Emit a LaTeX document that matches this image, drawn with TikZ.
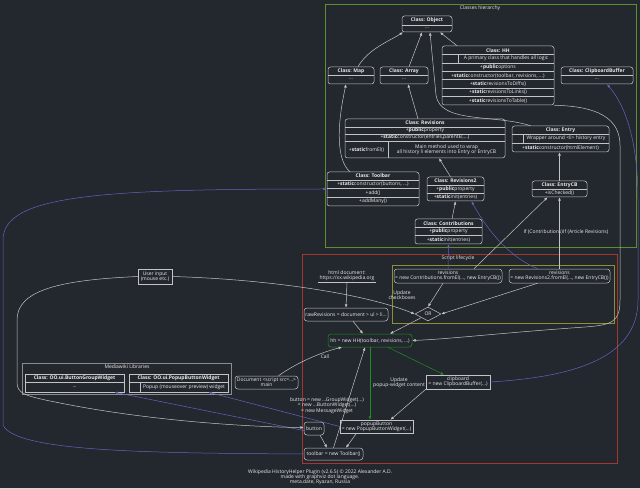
\documentclass[tikz,border=0pt]{standalone}
\usepackage{fontspec}
\setmainfont{Open Sans}[BoldFont={* Bold}]
\usetikzlibrary{arrows.meta,positioning,fit,shapes.geometric,calc}

\definecolor{bg}{HTML}{23272E}
\definecolor{txt}{HTML}{EBEBEB}
\definecolor{linec}{HTML}{C4C4C4}
\definecolor{blueline}{HTML}{6464C0}
\definecolor{greenline}{HTML}{1F8F1F}
\definecolor{clgreen}{HTML}{5E8E2E}
\definecolor{clred}{HTML}{A5382E}
\definecolor{clolive}{HTML}{8E8E34}
\definecolor{clgrey}{HTML}{8C8C8C}
\newcommand{\fs}{\fontsize{5}{5.3}\selectfont}

\begin{document}
\begin{tikzpicture}[x=1pt, y=-1pt,
  every node/.style={font=\fs, text=txt},
  cls/.style={draw=linec, rounded corners=2.5pt, line width=0.5pt, inner sep=0pt},
  lib/.style={draw=linec, line width=0.5pt, inner sep=0pt},
  hdr/.style={font=\fs\bfseries, inner sep=0pt},
  row/.style={inner sep=0pt, align=center},
  sep/.style={draw=linec, line width=0.4pt},
  inst/.style={draw=linec, rounded corners=3pt, align=center, inner sep=0pt, line width=0.5pt},
  plainbox/.style={draw=linec, align=center, inner sep=0pt, line width=0.5pt},
  cluster/.style={line width=0.6pt},
  lbl/.style={align=center, inner sep=0pt},
  edge/.style={draw=linec, line width=0.5pt, -{Latex[length=3.4pt,width=2.8pt]}},
  uses/.style={draw=blueline, line width=0.5pt, -{Latex[length=3.4pt,width=2.8pt]}},
  upd/.style={draw=greenline, line width=0.5pt, -{Latex[length=3.4pt,width=2.8pt]}}]

\fill[bg] (0,0) rectangle (640,489);
\fill[black!15] (0,487.5) rectangle (640,489);
\useasboundingbox (0,0) rectangle (640,489);

% clusters
\draw[cluster, clgreen] (325,4) rectangle (636,247);
\node (clsh) at (480,8.5) {Classes hierarchy};
\draw[cluster, clred] (302,254) rectangle (617,463);
\node (scrh) at (458,258.5) {Script lifecycle};
\draw[cluster, clolive] (392,265) rectangle (614,323);
\draw[cluster, clgrey] (22,363) rectangle (231,394);
\node (libh) at (127,367) {Mediawiki Libraries};

% Object
\node[cls, fit={(402,16) (452,32)}] (object) {};
\node[hdr] (objecth) at (427,20.5) {Class: Object};
\draw[sep] (402,25) -- (452,25);
\node[row] (object1) at (427,28.3) {...};

% Map / Array / ClipboardBuffer
\node[cls, fit={(328,67) (374,84)}] (map) {};
\node[hdr] (maph) at (351,71.2) {Class: Map};
\draw[sep] (328,75.5) -- (374,75.5);
\node[row] (map1) at (351,79.5) {...};
\node[cls, fit={(380,67) (428,84)}] (array) {};
\node[hdr] (arrayh) at (404,71.2) {Class: Array};
\draw[sep] (380,75.5) -- (428,75.5);
\node[row] (array1) at (404,79.5) {...};
\node[cls, fit={(561,67) (633,84)}] (clipbuf) {};
\node[hdr] (clipbufh) at (597,71.2) {Class: ClipboardBuffer};
\draw[sep] (561,75.5) -- (633,75.5);
\node[row] (clipbuf1) at (597,79.5) {...};

% HH
\node[cls, fit={(442,46) (554,105)}] (hhc) {};
\node[hdr] (hhch) at (498,50.2) {Class: HH};
\foreach \y in {54.5,63,71.3,79.7,88.1,96.5} \draw[sep] (442,\y) -- (554,\y);
\draw[sep] (458,54.5) -- (458,63);
\node[row] (hhc1) at (506,58.7) {A primary class that handles all logic};
\node[row] (hhc2) at (498,67.1) {+\textbf{public}options};
\node[row] (hhc3) at (498,75.5) {+\textbf{static}constructor(toolbar, revisions, ...)};
\node[row] (hhc4) at (498,83.9) {+\textbf{static}revisionsToDiffs()};
\node[row] (hhc5) at (498,92.3) {+\textbf{static}revisionsToLinks()};
\node[row] (hhc6) at (498,100.7) {+\textbf{static}revisionsToTable()};

% Revisions
\node[cls, fit={(345,119) (505,158)}] (revs) {};
\node[hdr] (revsh) at (425,123) {Class: Revisions};
\foreach \y in {127,134,141} \draw[sep] (345,\y) -- (505,\y);
\draw[sep] (388,141) -- (388,158);
\node[row] (revs1) at (425,130.5) {+\textbf{public}property};
\node[row] (revs2) at (425,137.5) {+\textbf{static}constructor(entries,parentEl,...)};
\node[row] (revs3) at (366.5,149.5) {+\textbf{static}fromEl()};
\node[row] (revs4) at (446.5,149.5) {Main method used to wrap\\all history li elements into Entry or EntryCB};

% Entry
\node[cls, fit={(512,126) (609,152)}] (entryc) {};
\node[hdr] (entrych) at (560.5,130.2) {Class: Entry};
\draw[sep] (512,134.5) -- (609,134.5);
\draw[sep] (512,143) -- (609,143);
\draw[sep] (523,134.5) -- (523,143);
\node[row] (entryc1) at (566,138.7) {Wrapper around <li> history entry};
\node[row] (entryc2) at (560.5,147.5) {+\textbf{static}constructor(htmlElement)};

% Toolbar
\node[cls, fit={(327,172) (419,206)}] (toolbarc) {};
\node[hdr] (toolbarch) at (373,176) {Class: Toolbar};
\foreach \y in {180,188.5,197} \draw[sep] (327,\y) -- (419,\y);
\node[row] (toolbarc1) at (373,184.2) {+\textbf{static}constructor(buttons, ...)};
\node[row] (toolbarc2) at (373,192.7) {+add()};
\node[row] (toolbarc3) at (373,201.5) {+addMany()};

% Revisions2
\node[cls, fit={(427,177) (484,201)}] (rev2c) {};
\node[hdr] (rev2ch) at (455.5,181) {Class: Revisions2};
\foreach \y in {185,193} \draw[sep] (427,\y) -- (484,\y);
\node[row] (rev2c1) at (455.5,189) {+\textbf{public}property};
\node[row] (rev2c2) at (455.5,197) {+\textbf{static}init(entries)};

% EntryCB
\node[cls, fit={(532,181) (587,197)}] (entrycb) {};
\node[hdr] (entrycbh) at (559.5,185) {Class: EntryCB};
\draw[sep] (532,189) -- (587,189);
\node[row] (entrycb1) at (559.5,193) {+isChecked()};

% Contributions
\node[cls, fit={(415,219) (482,244)}] (contribc) {};
\node[hdr] (contribch) at (448.5,223.2) {Class: Contributions};
\foreach \y in {227.3,235.7} \draw[sep] (415,\y) -- (482,\y);
\node[row] (contribc1) at (448.5,231.5) {+\textbf{public}property};
\node[row] (contribc2) at (448.5,239.8) {+\textbf{static}init(entries)};

% Mediawiki libraries
\node[lib, fit={(25,374) (124,392)}] (bgw) {};
\node[hdr] (bgwh) at (74.5,378.2) {Class: OO.ui.ButtonGroupWidget};
\draw[sep] (25,382.5) -- (124,382.5);
\node[row] (bgw1) at (74.5,387.2) {...};
\node[lib, fit={(129,374) (228,392)}] (pbw) {};
\node[hdr] (pbwh) at (178.5,378.2) {Class: OO.ui.PopupButtonWidget};
\draw[sep] (129,382.5) -- (228,382.5);
\draw[sep] (140,382.5) -- (140,392);
\node[row] (pbw1) at (184,387.2) {Popup (mouseover preview) widget};

% script lifecycle
\node[plainbox, minimum width=34pt, minimum height=15pt] (userin) at (155,276.5) {User input\\(mouse etc.)};
\node[lbl, inner sep=1pt] (htmldoc) at (347,275.5) {html document:\\https://xx.wikipedia.org};
\draw[sep] (htmldoc.south west) -- (htmldoc.south east);
\node[inst, minimum width=84pt, minimum height=13pt] (rawrev) at (346,314.5) {rawRevisions = document > ul > li...};
\node[inst, draw=greenline, minimum width=84pt, minimum height=13pt] (hh) at (370,340.5) {hh = new HH(toolbar, revisions, ...)};
\node[inst, minimum width=108pt, minimum height=14pt] (revc) at (448,276) {revisions\\= new Contributions.fromEl(..., new EntryCB())};
\node[inst, minimum width=101pt, minimum height=14pt] (reva) at (559.5,276) {revisions\\= new Revisions2.fromEl(..., new EntryCB())};
\node[draw=linec, diamond, aspect=1.9, minimum width=26pt, minimum height=14pt, inner sep=0pt, line width=0.5pt] (or) at (428,314) {OR};
\node[inst, minimum width=63pt, minimum height=13pt] (docmain) at (266.5,382.5) {Document <script src=...>\\main};
\node[plainbox, minimum width=64pt, minimum height=14pt] (clip) at (458,382) {clipboard\\= new ClipboardBuffer(...)};
\node[plainbox, minimum width=73pt, minimum height=13pt] (popup) at (376.5,426.5) {popupButton\\= new PopupButtonWidget(...)};
\node[inst, minimum width=20pt, minimum height=13pt] (button) at (314,428.5) {button};
\node[inst, minimum width=59pt, minimum height=12pt] (toolbar) at (333.5,454) {toolbar = new Toolbar()};

% edge labels
\node[lbl] (lupdchk) at (402,295) {Update\\checkboxes};
\node[lbl] (lcall) at (325,357) {Call};
\node[lbl] (lupdpop) at (399,382.5) {Update\\popup-widget content};
\node[lbl] (lbtn) at (327,405.5) {button = new ...GroupWidget(...)\\= new ...ButtonWidget(...)\\= new MessageWidget};
\node[lbl, anchor=east] (lifc) at (563,232) {If (Contributions)};
\node[lbl, anchor=west] (lifa) at (563,232) {If (Article Revisions)};

% inheritance
\draw[edge] ([xshift=7pt]map.north) .. controls +(10,-18) and +(-12,8) .. ([xshift=-24pt]object.south);
\draw[edge] ([xshift=5pt]array.north) -- ([xshift=-5pt]object.south);
\draw[edge] ([xshift=-41pt]hhc.north) -- ([xshift=13pt]object.south);
\draw[edge] ([xshift=-30pt]entryc.north) .. controls (495,114) and (440,124) .. (436,95) -- ([xshift=3pt]object.south);
\draw[edge] ([xshift=-7pt]revs.north) -- ([xshift=4pt]array.south);
\draw[edge] ([xshift=-23pt]toolbarc.north) .. controls (336,160) and (337,125) .. ([xshift=-5pt]map.south);
\draw[edge] ([xshift=-5pt]rev2c.north) -- ([xshift=14pt]revs.south);
\draw[edge] ([xshift=3.5pt]contribc.north) -- (rev2c.south);
\draw[edge] (entrycb.north) -- (entrycb.north |- entryc.south);
\draw[edge] (reva.north) -- (reva.north |- entrycb.south);
\draw[edge] ([xshift=26pt]revc.north) -- ([xshift=-12pt]entrycb.south);
\draw[edge] (hhc.south east) .. controls (585,106) and (620,112) .. (620,145) -- (620,300) .. controls (620,322) and (612,325) .. (585,327) .. controls (500,333) and (450,339) .. (hh.east);

% instances
\draw[uses] (toolbar.west) .. controls (150,453) and (15,452) .. (3,425) -- (3,240) .. controls (3,195) and (100,189) .. (toolbarc.west);
\draw[uses] (clip.east) .. controls (570,377) and (638,360) .. (638,300) -- (638,200) .. controls (638,140) and (625,105) .. ([xshift=10pt]clipbuf.south);
\draw[uses] ([xshift=-22pt]reva.north) .. controls (512,258) and (490,235) .. ([xshift=16pt]rev2c.south);
\draw[uses] (revc.north) -- (contribc.south);
\draw[uses] (popup.west) -- ([xshift=30pt]pbw.south);
\draw[uses] ([yshift=-2pt]button.west) -- ([xshift=40pt]bgw.south);

% lifecycle
\draw[edge] (userin.east) .. controls (260,279) and (360,292) .. (or.west);
\draw[edge] (userin.west) .. controls (60,280) and (17,290) .. (17,320) -- (17,382) .. controls (17,394) and (25,396) .. (60,403) .. controls (150,421) and (250,427) .. ([yshift=1pt]button.west);
\draw[edge] (htmldoc.south) -- (rawrev.north);
\draw[edge] ([xshift=7pt]rawrev.south) -- ([xshift=-7pt]hh.north);
\draw[edge] ([xshift=-5pt]revc.south) -- (or.north);
\draw[edge] ([xshift=-22pt]reva.south) -- (or.east);
\draw[edge] (or.south west) -- ([xshift=20pt]hh.north);
\draw[edge] ([xshift=12pt]docmain.north) .. controls (298,362) and (322,352) .. ([xshift=-28pt]hh.south);
\draw[edge] (toolbar.north) -- ([xshift=-5pt]hh.south);
\draw[upd] (hh.south) -- (hh.south |- popup.north);
\draw[upd] ([xshift=18pt]hh.south) -- ([xshift=-14pt]clip.north);
\draw[edge] (clip.south west) -- ([xshift=14pt]popup.north);
\draw[edge] ([xshift=6pt]button.south) -- ([xshift=-6.5pt]toolbar.north);
\draw[edge] ([xshift=-20pt]popup.south) -- ([xshift=12.5pt]toolbar.north);

\node[lbl] (credits) at (320,477) {Wikipedia HistoryHelper Plugin (v2.6.5) © 2022 Alexander A.D.\\made with graphviz dot language.\\meta.date, Ryazan, Russia};
\end{tikzpicture}
\end{document}
